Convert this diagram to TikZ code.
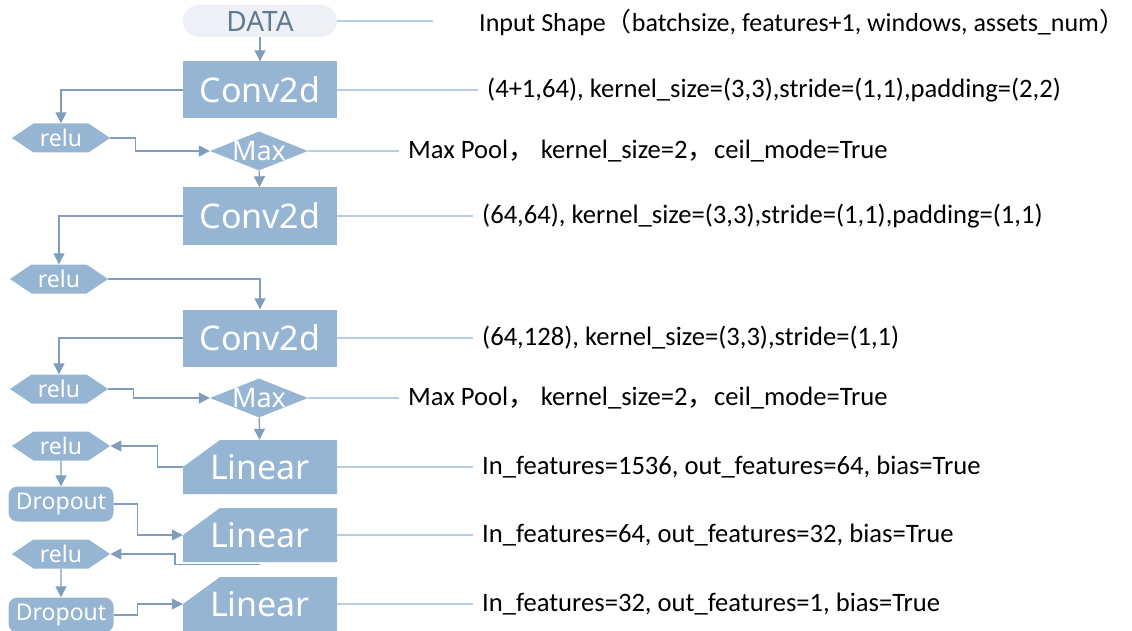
\documentclass[tikz,border=0pt]{standalone}
\usepackage{fontspec}
\usetikzlibrary{arrows.meta,shapes.geometric,shapes.symbols}
\newfontfamily\notefont{Carlito}
\newfontfamily\labelfont{Noto Sans}
\newfontfamily\cjk{Noto Sans CJK SC}
\definecolor{boxblue}{RGB}{149,181,211}
\definecolor{arrowblue}{RGB}{127,158,189}
\definecolor{lineblue}{RGB}{183,205,228}
\definecolor{datafill}{RGB}{237,241,246}
\definecolor{datatext}{RGB}{96,122,146}
\begin{document}
\begin{tikzpicture}[x=1pt,y=-1pt,
    box/.style={fill=boxblue, text=white, inner sep=0pt},
    conv/.style={box, rectangle, minimum width=154pt, minimum height=57pt,
      font=\labelfont\fontsize{34}{40}\selectfont},
    lin/.style={rectangle, text=white, inner sep=0pt,
      minimum width=154pt, minimum height=54pt,
      font=\labelfont\fontsize{34}{40}\selectfont,
      path picture={\fill[boxblue] (path picture bounding box.west)
        -- ([xshift=37pt]path picture bounding box.north west)
        -- (path picture bounding box.north east)
        -- (path picture bounding box.south east)
        -- (path picture bounding box.south west) -- cycle;}},
    relu/.style={box, signal, signal to=west and east, signal pointer angle=68,
      minimum width=98pt, minimum height=29pt,
      font=\labelfont\fontsize{23}{26}\selectfont},
    drop/.style={box, rectangle, rounded corners=9pt, minimum width=105pt,
      minimum height=35pt, font=\labelfont\fontsize{23}{26}\selectfont},
    pool/.style={box, diamond, aspect=2.5, minimum width=98pt, minimum height=39pt,
      label={[text=white, font=\labelfont\fontsize{27}{30}\selectfont]center:Max}},
    note/.style={anchor=west, inner sep=0pt, font=\notefont\fontsize{26.6}{30}\selectfont},
    arr/.style={draw=arrowblue, line width=1.3pt, -{Triangle[width=11pt,length=11pt]}},
    link/.style={draw=lineblue, line width=2pt, shorten >=9pt}]
  \useasboundingbox (0,0) rectangle (1132,631);

  % main column
  \node [rectangle, rounded corners=16pt, fill=datafill, text=datatext,
    minimum width=154pt, minimum height=32pt,
    font=\labelfont\fontsize{28}{32}\selectfont] (data) at (260,21) {DATA};
  \node [conv] (conv1) at (260,90) {Conv2d};
  \node [pool] (max1) at (259,151) {};
  \node [conv] (conv2) at (260,216) {Conv2d};
  \node [conv] (conv3) at (260,338) {Conv2d};
  \node [pool] (max2) at (259,398) {};
  \node [lin] (lin1) at (260,467) {Linear};
  \node [lin] (lin2) at (260,535) {Linear};
  \node [lin] (lin3) at (260,604) {Linear};

  % activations on the left
  \node [relu] (relu1) at (61,138) {relu};
  \node [relu] (relu2) at (59,279) {relu};
  \node [relu] (relu3) at (59,389) {relu};
  \node [relu] (relu4) at (61,446) {relu};
  \node [drop] (drop1) at (61,504) {Dropout};
  \node [relu] (relu5) at (61,554) {relu};
  \node [drop] (drop2) at (61,615) {Dropout};

  % notes
  \node [note, font=\notefont\fontsize{26}{30}\selectfont] (n0) at (479,22) {Input Shape{\cjk （}batchsize, features+1, windows, assets\_num\makebox[0.45em][l]{\cjk ）}};
  \node [note] (n1) at (487,90) {(4+1,64), kernel\_size=(3,3),stride=(1,1),padding=(2,2)};
  \node [note] (n2) at (408,151) {Max Pool{\cjk ，}\hspace{6pt}kernel\_size=2{\cjk ，}ceil\_mode=True};
  \node [note] (n3) at (482,216) {(64,64), kernel\_size=(3,3),stride=(1,1),padding=(1,1)};
  \node [note] (n4) at (482,338) {(64,128), kernel\_size=(3,3),stride=(1,1)};
  \node [note] (n5) at (408,398) {Max Pool{\cjk ，}\hspace{6pt}kernel\_size=2{\cjk ，}ceil\_mode=True};
  \node [note] (n6) at (482,467) {In\_features=1536, out\_features=64, bias=True};
  \node [note] (n7) at (482,535) {In\_features=64, out\_features=32, bias=True};
  \node [note] (n8) at (482,604) {In\_features=32, out\_features=1, bias=True};

  % flow
  \draw[arr] (data) -- (conv1);
  \draw[arr] (conv1.west) -| (relu1.north);
  \draw[arr] (relu1.east) -- ++(25,0) |- (max1.west);
  \draw[arr] (max1) -- (conv2);
  \draw[arr] (conv2.west) -| (relu2.north);
  \draw[arr] (relu2.east) -| (conv3.north);
  \draw[arr] (conv3.west) -| (relu3.north);
  \draw[arr] (relu3.east) -- ++(25,0) |- (max2.west);
  \draw[arr] (max2) -- (lin1);
  \draw[arr] (lin1.west) -- ++(-25,0) |- (relu4.east);
  \draw[arr] (relu4) -- (drop1);
  \draw[arr] (drop1.east) -- ++(24,0) |- (lin2.west);
  \draw[arr] (lin2.south) ++(0,2) -- ++(-85,0) |- (relu5.east);
  \draw[arr] (relu5) -- (drop2);
  \draw[arr] (drop2.east) -- ++(24,0) |- (lin3.west);

  % links to notes
  \draw[link, shorten >=46pt] (data.east) -- (data.east -| n0.west);
  \draw[link] (conv1.east) -- (conv1.east -| n1.west);
  \draw[link] (max1.east) -- (max1.east -| n2.west);
  \draw[link] (conv2.east) -- (conv2.east -| n3.west);
  \draw[link] (conv3.east) -- (conv3.east -| n4.west);
  \draw[link] (max2.east) -- (max2.east -| n5.west);
  \draw[link] (lin1.east) -- (lin1.east -| n6.west);
  \draw[link] (lin2.east) -- (lin2.east -| n7.west);
  \draw[link] (lin3.east) -- (lin3.east -| n8.west);
\end{tikzpicture}
\end{document}
